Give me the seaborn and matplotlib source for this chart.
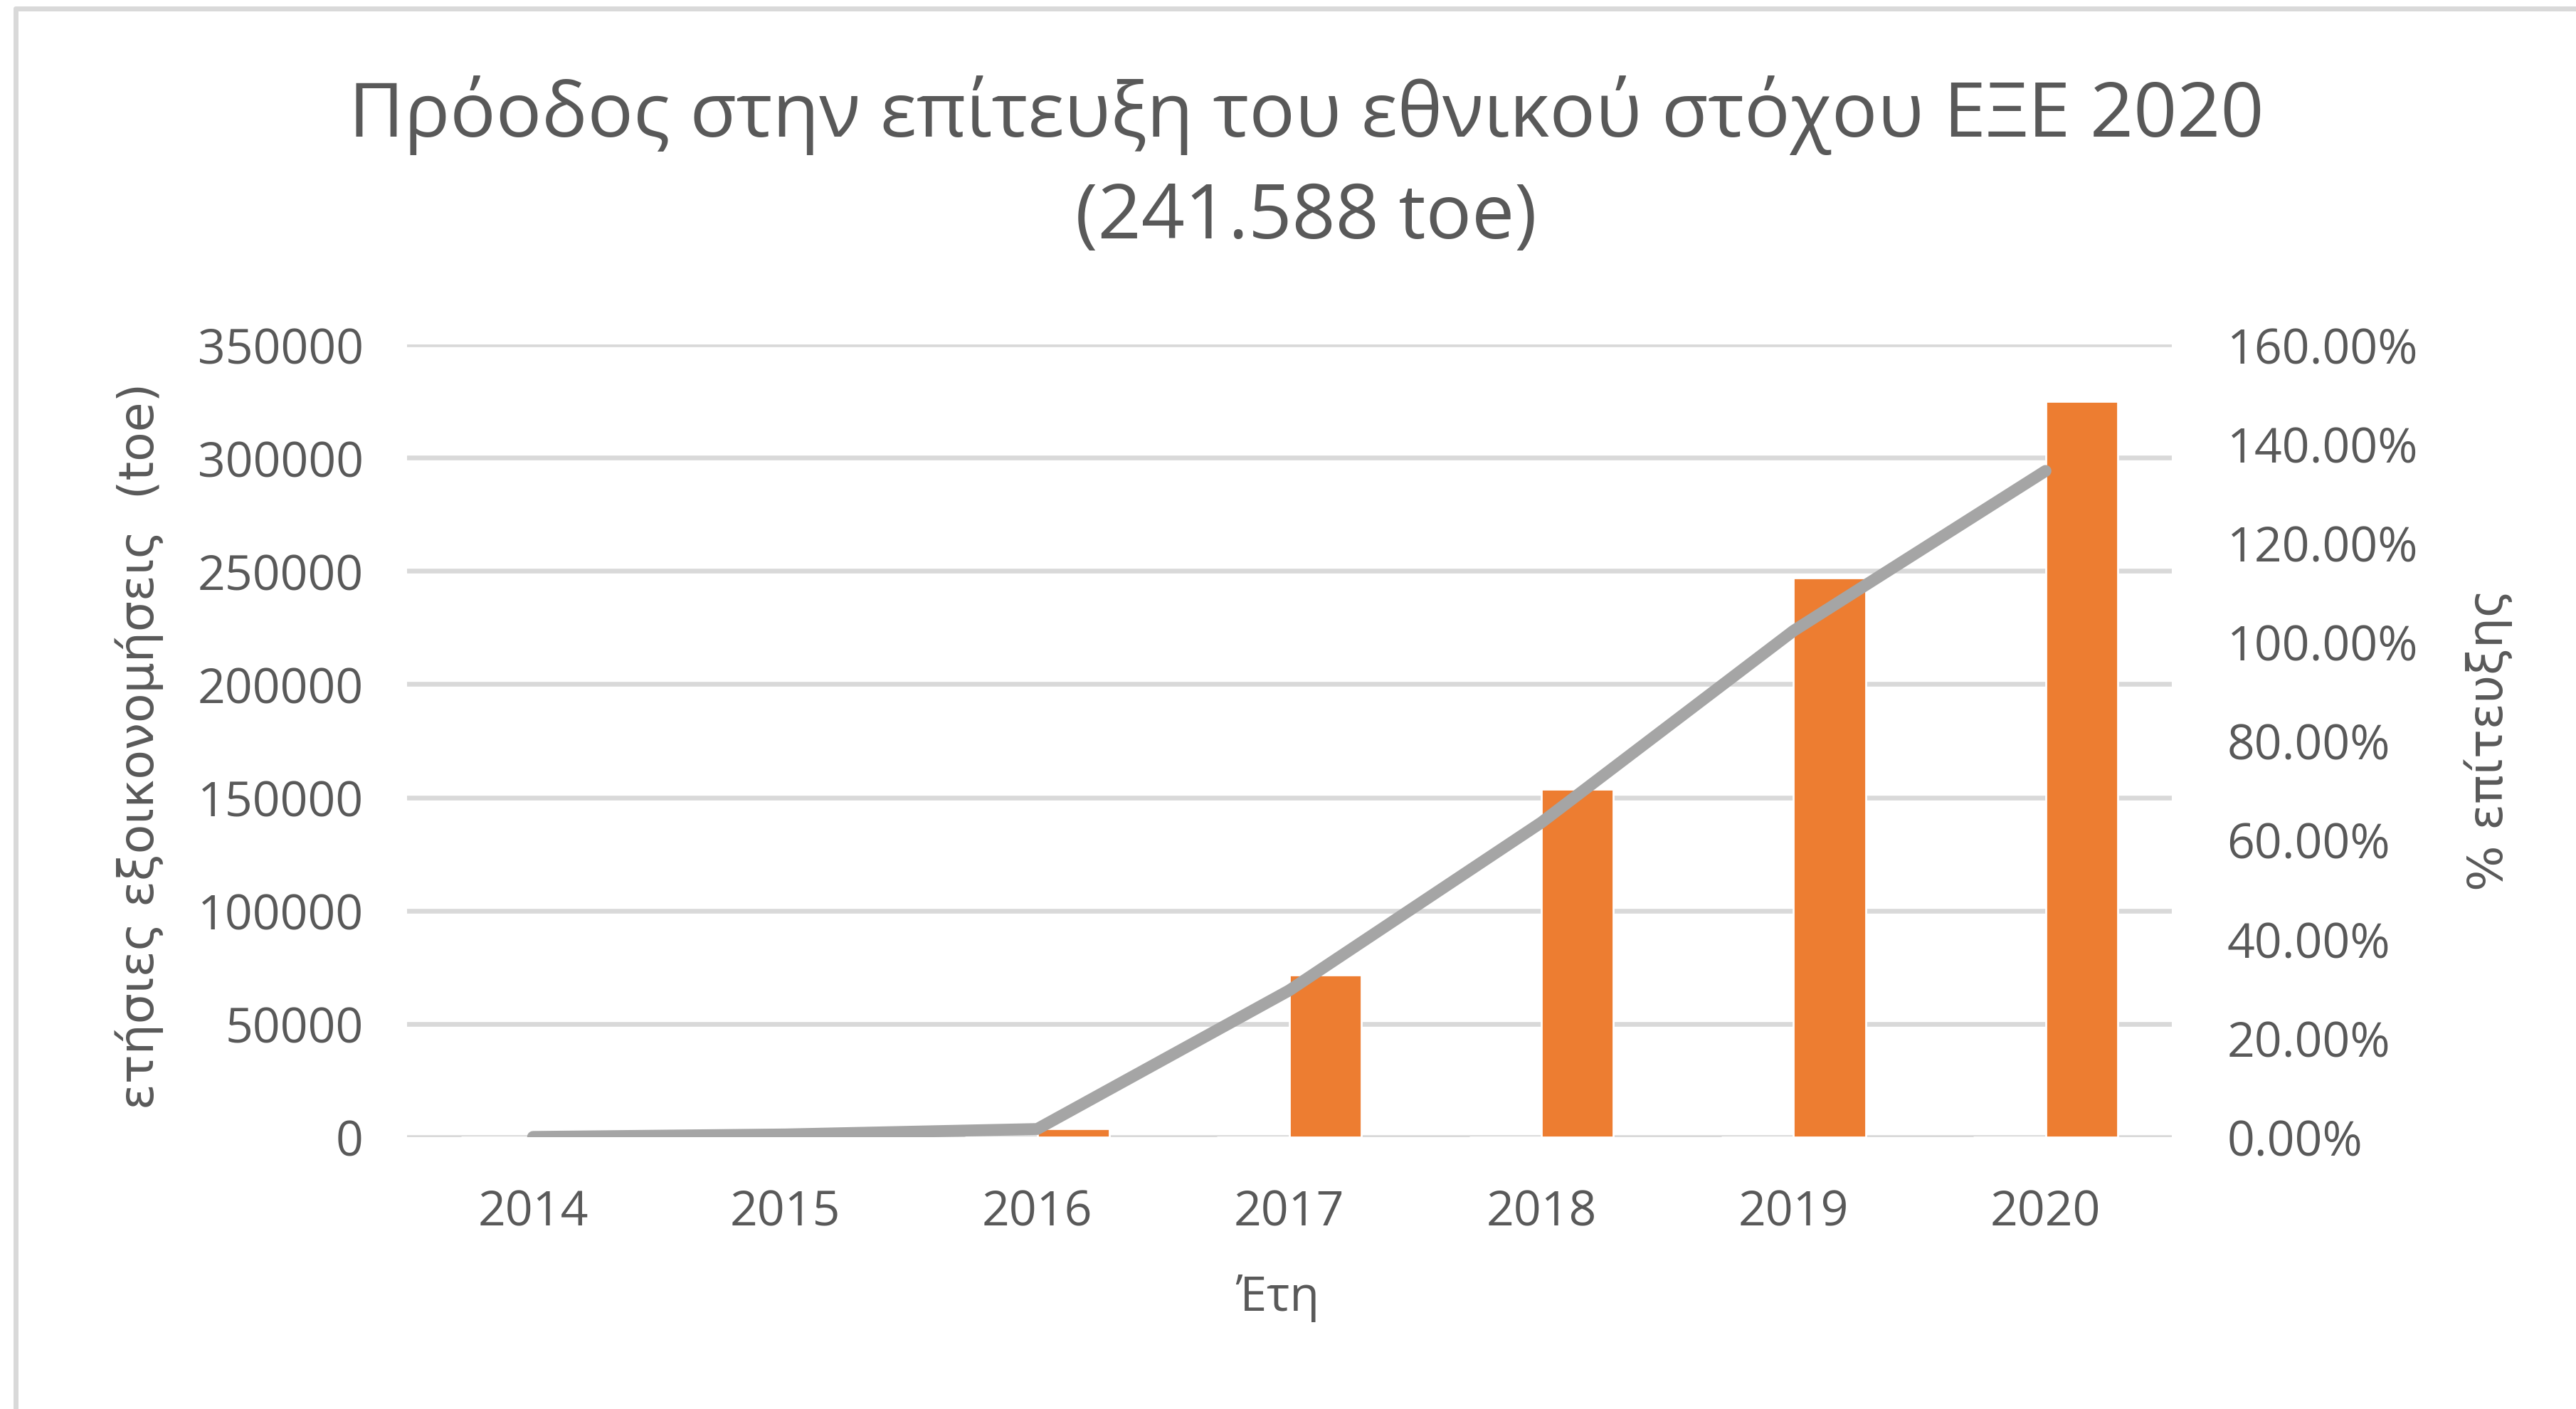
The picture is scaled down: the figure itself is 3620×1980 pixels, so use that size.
import numpy as np
import pandas as pd
import matplotlib
matplotlib.use('Agg')
import matplotlib.pyplot as plt
from matplotlib.ticker import PercentFormatter, MultipleLocator
import seaborn as sns

# %% Data
years = ['2014', '2015', '2016', '2017', '2018', '2019', '2020']
savings_toe = [0, 1200, 3800, 71500, 153500, 247000, 325000]
# empty first series in the original Excel combo -> bars sit right of the tick
empty_series = [0, 0, 0, 0, 0, 0, 0]
achievement = [0.0, 0.005, 0.016, 0.296, 0.635, 1.022, 1.345]

title_line1 = 'Πρόοδος στην επίτευξη του εθνικού στόχου ΕΞΕ 2020'
title_line2 = '(241.588 toe)'
ylabel_left = 'ετήσιες εξοικονομήσεις  (toe)'
ylabel_right = '% επίτευξης'
xlabel = 'Έτη'

ORANGE = '#ED7D31'
GREY_LINE = '#A5A5A5'
GRID = '#D9D9D9'
TEXT = '#595959'

bars = pd.DataFrame({
    'year': years * 2,
    'toe': empty_series + savings_toe,
    'series': ['empty'] * len(years) + ['savings'] * len(years),
})
line = pd.DataFrame({'pos': range(len(years)), 'pct': achievement})

# %% Plot
sns.set_theme(style='white')
plt.rcParams['font.family'] = ['Open Sans', 'DejaVu Sans']

fig = plt.figure(figsize=(18.1, 9.905), dpi=200)
ax = fig.add_axes([0.158, 0.193, 0.685, 0.562])

sns.barplot(data=bars, x='year', y='toe', hue='series',
            palette={'empty': (1, 1, 1, 0), 'savings': ORANGE}, saturation=1,
            width=0.572, dodge=True, legend=False, ax=ax, zorder=3)
ax.set_xlim(-0.5, 6.5)
ax.set_ylim(0, 350000)
ax.yaxis.set_major_locator(MultipleLocator(50000))
ax.grid(axis='y', color=GRID, linewidth=2.4, zorder=0)
ax.set_axisbelow(True)
ax.set_xlabel('')
ax.set_ylabel('')
ax.tick_params(axis='both', length=0, labelsize=24.5, labelcolor=TEXT)
ax.tick_params(axis='x', pad=26)
ax.tick_params(axis='y', pad=22)

ax2 = ax.twinx()
sns.lineplot(data=line, x='pos', y='pct', color=GREY_LINE, linewidth=6,
             ax=ax2, zorder=4)
ax2.set_ylim(0, 1.6)
ax2.yaxis.set_major_locator(MultipleLocator(0.2))
ax2.yaxis.set_major_formatter(PercentFormatter(1.0, decimals=2))
ax2.set_xlabel('')
ax2.set_ylabel('')
ax2.tick_params(axis='y', length=0, labelsize=24.5, labelcolor=TEXT, pad=28)
ax2.grid(False)

for a in (ax, ax2):
    for s in a.spines.values():
        s.set_visible(False)

# titles / axis labels
fig.text(0.507, 0.918, title_line1, ha='center', va='center', fontsize=38.5, color=TEXT)
fig.text(0.507, 0.845, title_line2, ha='center', va='center', fontsize=38.5, color=TEXT)
fig.text(0.054, 0.471, ylabel_left, rotation=90, ha='center', va='center',
         fontsize=24.5, color=TEXT, family='DejaVu Sans')
fig.text(0.966, 0.475, ylabel_right, rotation=90, ha='center', va='center',
         fontsize=24.5, color=TEXT, family='DejaVu Sans')
fig.text(0.496, 0.079, xlabel, ha='center', va='center', fontsize=24.5, color=TEXT)

# chart area border (only top and left visible in the crop)
fig.add_artist(plt.Line2D([0.0062, 0.0062], [0.0, 0.9932], transform=fig.transFigure, color=GRID, linewidth=2.5))
fig.add_artist(plt.Line2D([0.0062, 1.0], [0.9932, 0.9932], transform=fig.transFigure, color=GRID, linewidth=2.5))

fig.savefig('out.png', dpi=200, facecolor='white')
